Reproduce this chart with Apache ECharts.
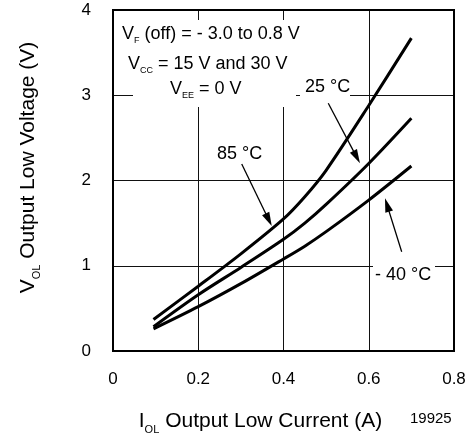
<!DOCTYPE html>
<html>
<head>
<meta charset="utf-8">
<script src="https://cdn.jsdelivr.net/npm/echarts@6/dist/echarts.min.js"></script>
<style>
html,body{margin:0;padding:0;background:#fff;}
#chart{width:468px;height:434px;}
</style>
</head>
<body>
<div id="chart"></div>
<script>
// ---- data ----
const iolA = [0.095, 0.2, 0.3, 0.4, 0.45, 0.5, 0.6, 0.7];          // I_OL (A)
const vol85 = [0.37, 0.76, 1.14, 1.55, 1.81, 2.12, 2.88, 3.67];    // 85 °C
const vol25 = [0.285, 0.66, 0.98, 1.31, 1.50, 1.72, 2.20, 2.73];   // 25 °C
const volM40 = [0.26, 0.52, 0.79, 1.08, 1.23, 1.40, 1.77, 2.17];   // -40 °C
const xTickLabels = ['0', '0.2', '0.4', '0.6', '0.8'];
const yTickLabels = ['0', '1', '2', '3', '4'];
// arrows: [from, to] in data units
const arrow85 = [[0.302, 2.193], [0.3653, 1.540]];
const arrow25 = [[0.505, 2.906], [0.5717, 2.274]];
const arrowM40 = [[0.6773, 1.165], [0.643, 1.713]];

const FONT = 'Liberation Sans, Arial, Helvetica, sans-serif';
const pairs = (ys) => iolA.map((x, i) => [x, ys[i]]);

const chart = echarts.init(document.getElementById('chart'), null, {renderer: 'canvas'});

function curve(name, ys, arrow) {
  return {
    name: name,
    type: 'line',
    data: pairs(ys),
    smooth: 0.3,
    showSymbol: false,
    symbol: 'none',
    z: 10,
    lineStyle: {color: '#000', width: 3},
    itemStyle: {color: '#000'},
    animation: false,
    markLine: {
      silent: true,
      symbol: ['none', 'triangle'],
      symbolSize: [8, 14],
      label: {show: false},
      lineStyle: {color: '#000', width: 1.3, type: 'solid'},
      data: [[{coord: arrow[0]}, {coord: arrow[1]}]],
      animation: false
    }
  };
}

const annRich = {
  m: {fontSize: 18, lineHeight: 22, fontFamily: FONT, color: '#000'},
  s: {fontSize: 9, lineHeight: 9, verticalAlign: 'bottom', fontFamily: FONT, color: '#000'}
};

function txt(text, x, y) {
  return {
    type: 'text', z: 6, left: x, top: y,
    style: {text: text, fontSize: 18, fontFamily: FONT, fill: '#000', rich: annRich}
  };
}
function box(x, y, w, h) {
  return {type: 'rect', z: 5, shape: {x: x, y: y, width: w, height: h}, style: {fill: '#fff'}};
}

const axisRich = {
  m: {fontSize: 21, lineHeight: 28, fontFamily: FONT, color: '#000'},
  s: {fontSize: 11, lineHeight: 11, verticalAlign: 'bottom', fontFamily: FONT, color: '#000'}
};

chart.setOption({
  animation: false,
  backgroundColor: '#fff',
  grid: {left: 113, right: 14, top: 10, bottom: 83, show: true, borderColor: '#000', borderWidth: 2,
         backgroundColor: 'transparent', z: 8, containLabel: false, outerBoundsMode: 'none'},
  xAxis: {
    type: 'value', min: 0, max: 0.8, interval: 0.2,
    axisLine: {show: false}, axisTick: {show: false},
    splitLine: {show: true, lineStyle: {color: '#111', width: 1}},
    axisLabel: {
      margin: 20, fontSize: 17, fontFamily: FONT, color: '#000',
      formatter: (v) => xTickLabels[Math.round(v / 0.2)]
    },
    name: '{m|I}{s|OL}{m| Output Low Current (A)}',
    nameLocation: 'middle', nameGap: 56,
    nameTextStyle: {rich: axisRich, padding: [0, 46, 0, 0]}
  },
  yAxis: {
    type: 'value', min: 0, max: 4, interval: 1,
    axisLine: {show: false}, axisTick: {show: false},
    splitLine: {show: true, lineStyle: {color: '#111', width: 1}},
    axisLabel: {
      margin: 22, fontSize: 17, fontFamily: FONT, color: '#000',
      padding: [5, 0, 0, 0],
      formatter: (v) => yTickLabels[Math.round(v)]
    },
    name: '{m|V}{s|OL}{m| Output Low Voltage (V)}',
    nameLocation: 'middle', nameGap: 71, nameRotate: 90,
    nameTextStyle: {rich: axisRich, padding: [0, 0, 0, 26]}
  },
  series: [
    curve('85 °C', vol85, arrow85),
    curve('25 °C', vol25, arrow25),
    curve('- 40 °C', volM40, arrowM40)
  ],
  graphic: [
    box(133, 20, 163, 87),
    box(300, 76, 50, 26),
    box(373, 263, 62, 26),
    txt('{m|V}{s|F}{m| (off) = - 3.0 to 0.8 V}', 122, 25),
    txt('{m|V}{s|CC}{m| = 15 V and 30 V}', 128, 55),
    txt('{m|V}{s|EE}{m| = 0 V}', 170, 80),
    txt('{m|25 °C}', 305, 78),
    txt('{m|85 °C}', 217, 145),
    txt('{m|- 40 °C}', 375, 266),
    {type: 'text', z: 6, left: 410, top: 411,
     style: {text: '19925', fontSize: 15, fontFamily: FONT, fill: '#000'}}
  ]
});
</script>
</body>
</html>
